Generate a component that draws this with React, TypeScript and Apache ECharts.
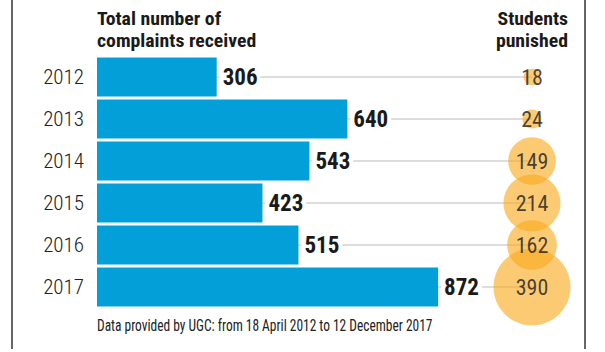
import React, { useEffect, useRef } from "react";
import * as echarts from "echarts";

const years = ["2012", "2013", "2014", "2015", "2016", "2017"];
const complaints = [306, 640, 543, 423, 515, 872];
const punished = [18, 24, 149, 214, 162, 390];
const headerLeft = ["Total number of", "complaints received"];
const headerRight = ["Students", "punished"];
const footer = "Data provided by UGC: from 18 April 2012 to 12 December 2017";

const COND = "'Roboto Condensed', 'DejaVu Sans Condensed', sans-serif";

export default function App() {
  const ref = useRef<HTMLDivElement>(null);
  useEffect(() => {
    if (!ref.current) return;
    const chart = echarts.init(ref.current, null, { renderer: "svg" });
    const headerText = (lines: string[], x: number, align: string) =>
      lines.map((t, i) => ({
        type: "text",
        x,
        y: 9 + i * 22.5,
        scaleX: 1.04,
        style: {
          text: t,
          fontSize: 19,
          lineHeight: 19,
          fontWeight: "bold",
          fontFamily: COND,
          fill: "#1a1a1a",
          textAlign: align,
          textVerticalAlign: "top",
        },
      }));
    const option: any = {
      animation: false,
      backgroundColor: "#fff",
      grid: [
        { left: 97, right: 73, top: 56, bottom: 44 },
        { left: 490, width: 84, top: 56, bottom: 44 },
      ],
      xAxis: [
        { type: "value", gridIndex: 0, min: 0, max: 1112, show: false },
        { type: "category", gridIndex: 1, data: ["punished"], show: false },
      ],
      yAxis: [
        {
          type: "category",
          gridIndex: 0,
          data: years,
          inverse: true,
          axisLine: { show: false },
          axisTick: { show: false },
          splitLine: { show: false },
          axisLabel: {
            margin: 13,
            fontSize: 21,
            fontWeight: 300,
            color: "#222",
            fontFamily: COND,
          },
        },
        {
          type: "category",
          gridIndex: 1,
          data: years,
          inverse: true,
          show: false,
        },
      ],
      series: [
        {
          type: "custom",
          xAxisIndex: 0,
          yAxisIndex: 0,
          z: 1,
          encode: { x: 0, y: 1 },
          data: complaints.map((v, i) => [v, i]),
          renderItem: (params: any, api: any) => {
            const p = api.coord([api.value(0), api.value(1)]);
            const cs = params.coordSys;
            return {
              type: "line",
              shape: { x1: p[0], y1: p[1], x2: cs.x + cs.width, y2: p[1] },
              style: { stroke: "#d2d2d2", lineWidth: 1.5 },
            };
          },
        },
        {
          type: "bar",
          xAxisIndex: 0,
          yAxisIndex: 0,
          z: 2,
          barWidth: 39,
          data: complaints,
          itemStyle: { color: "#039FD8" },
          label: {
            show: true,
            position: "right",
            distance: 3,
            fontSize: 23,
            fontWeight: "bold",
            fontFamily: COND,
            color: "#1a1a1a",
            backgroundColor: "#fff",
            padding: [0, 3],
          },
        },
        {
          type: "scatter",
          xAxisIndex: 1,
          yAxisIndex: 1,
          z: 3,
          data: punished.map((v, i) => [0, i, v]),
          symbolSize: (d: any) => Math.sqrt(d[2]) * 3.9,
          itemStyle: { color: "rgba(250,170,30,0.78)" },
          label: {
            show: true,
            position: "inside",
            formatter: (p: any) => String(p.value[2]),
            fontSize: 22,
            fontFamily: COND,
            color: "#1a1a1a",
          },
        },
      ],
      graphic: [
        {
          type: "line",
          shape: { x1: 12, y1: 0, x2: 12, y2: 349 },
          style: { stroke: "#333", lineWidth: 1.5 },
        },
        {
          type: "line",
          shape: { x1: 585, y1: 0, x2: 585, y2: 349 },
          style: { stroke: "#333", lineWidth: 1.5 },
        },
        ...headerText(headerLeft, 97, "left"),
        ...headerText(headerRight, 568, "right"),
        {
          type: "text",
          x: 97,
          y: 317,
          scaleX: 0.79,
          style: {
            text: footer,
            fontSize: 17,
            fontFamily: COND,
            fill: "#222",
            textAlign: "left",
            textVerticalAlign: "top",
          },
        },
      ],
    };
    chart.setOption(option);
    return () => chart.dispose();
  }, []);
  return <div ref={ref} style={{ width: 605, height: 352, position: "fixed", left: 0, top: 0 }} />;
}
